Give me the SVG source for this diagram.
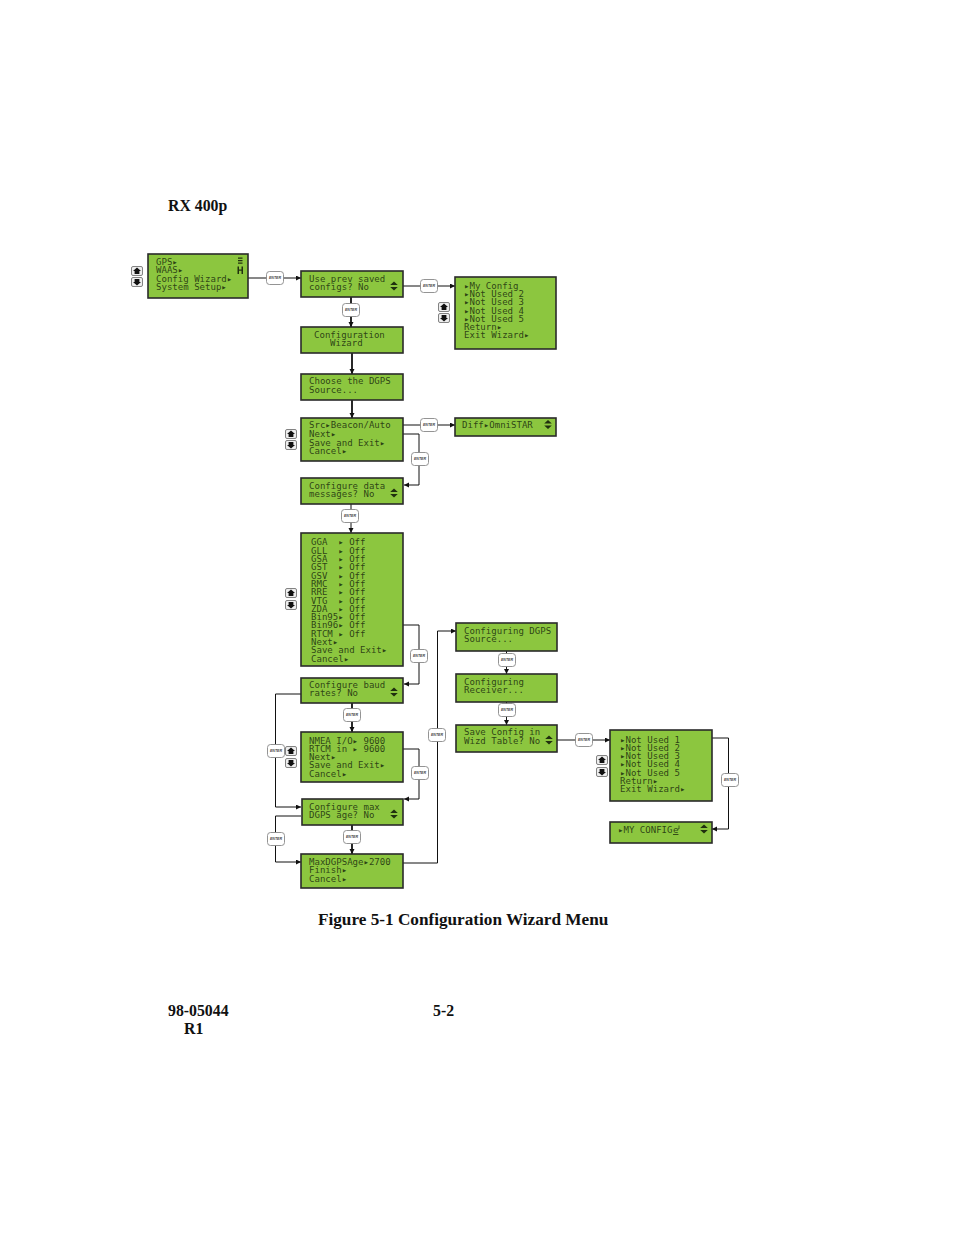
<svg xmlns="http://www.w3.org/2000/svg" width="954" height="1235" viewBox="0 0 954 1235">
<style>
.bg{fill:#fff}
.box{fill:#8cc63f;stroke:#2a2a2a;stroke-width:1.6}
.lcd{font-family:"DejaVu Sans Mono","Liberation Mono",monospace;font-size:9.05px;fill:#20300f;fill-opacity:.88;white-space:pre}
.page{font-family:"Liberation Serif","Times New Roman",serif;font-weight:bold;font-size:15.8px;fill:#111;white-space:pre}
.cap{font-size:17.2px}
.c{fill:none;stroke:#111;stroke-width:1}
.t{fill:none;stroke:#111;stroke-width:1.8}
.btn{fill:#fff;stroke:#888;stroke-width:.9}
.bt{font-family:"Liberation Sans",Arial,sans-serif;font-size:3.6px;font-weight:bold;font-style:italic;fill:#444;text-anchor:middle}
.key{fill:#eee;stroke:#666;stroke-width:.8}
.ud{fill:#20300f}
</style>
<defs>
<marker id="ah" markerUnits="userSpaceOnUse" markerWidth="7" markerHeight="7" refX="5" refY="2.5" orient="auto"><path d="M0,0L5,2.5L0,5z" fill="#111"/></marker>
<g id="enter"><rect class="btn" x="-8.5" y="-6.5" width="17" height="13" rx="3"/><text class="bt" y="1.3">ENTER</text></g>
<g id="up"><rect class="key" x="-5.5" y="-4.5" width="11" height="9" rx="1.5"/><path d="M0,-3.5L4,0H2.4V3H-2.4V0H-4z" fill="#111"/></g>
<g id="down"><rect class="key" x="-5.5" y="-4.5" width="11" height="9" rx="1.5"/><path d="M0,3.5L4,0H2.4V-3H-2.4V0H-4z" fill="#111"/></g>
<g id="updown"><path class="ud" d="M0,-4.4L3.8,-1H-3.8zM0,4.4L3.8,1H-3.8z"/></g>
</defs>
<rect class="bg" width="954" height="1235"/>
<text class="page" x="168" y="211">RX 400p</text>
<text class="page cap" x="318" y="925">Figure 5-1 Configuration Wizard Menu</text>
<text class="page" x="168" y="1016">98-05044</text>
<text class="page" x="433" y="1016">5-2</text>
<text class="page" x="184" y="1034">R1</text>

<g id="connectors">
<path class="c" marker-end="url(#ah)" d="M248,278H301"/>
<path class="c" marker-end="url(#ah)" d="M403,286H455"/>
<path class="t" marker-end="url(#ah)" d="M351,297V327"/>
<path class="t" marker-end="url(#ah)" d="M352,353V374"/>
<path class="t" marker-end="url(#ah)" d="M352,400V418"/>
<path class="c" marker-end="url(#ah)" d="M403,425H455"/>
<path class="c" marker-end="url(#ah)" d="M403,434H419V485H404"/>
<path class="c" marker-end="url(#ah)" d="M351,504V533"/>
<path class="c" marker-end="url(#ah)" d="M403,625H419V684H404"/>
<path class="t" marker-end="url(#ah)" d="M352,703V732"/>
<path class="c" marker-end="url(#ah)" d="M301,694H275.5V807H301"/>
<path class="c" marker-end="url(#ah)" d="M403,749H419V799H404"/>
<path class="t" marker-end="url(#ah)" d="M352,825V854"/>
<path class="c" marker-end="url(#ah)" d="M301,816H275.5V862H301"/>
<path class="c" marker-end="url(#ah)" d="M403,863H437.5V631H456"/>
<path class="c" marker-end="url(#ah)" d="M506.5,651V674"/>
<path class="c" marker-end="url(#ah)" d="M506.5,702V725"/>
<path class="c" marker-end="url(#ah)" d="M557,740H610"/>
<path class="c" marker-end="url(#ah)" d="M712,738H728.5V829H712"/>
<use href="#enter" x="275" y="278"/>
<use href="#enter" x="429" y="286"/>
<use href="#enter" x="351" y="310"/>
<use href="#enter" x="429" y="425"/>
<use href="#enter" x="420" y="459"/>
<use href="#enter" x="350" y="516"/>
<use href="#enter" x="419" y="656"/>
<use href="#enter" x="352" y="715"/>
<use href="#enter" x="276" y="751"/>
<use href="#enter" x="420" y="773"/>
<use href="#enter" x="352" y="837"/>
<use href="#enter" x="276" y="839"/>
<use href="#enter" x="437" y="735"/>
<use href="#enter" x="507" y="660"/>
<use href="#enter" x="507" y="710"/>
<use href="#enter" x="584" y="740"/>
<use href="#enter" x="730" y="780"/>
</g>

<g id="keys">
<use href="#up" x="137" y="271"/><use href="#down" x="137" y="282"/>
<use href="#up" x="444" y="307"/><use href="#down" x="444" y="318"/>
<use href="#up" x="291" y="434"/><use href="#down" x="291" y="445"/>
<use href="#up" x="291" y="593"/><use href="#down" x="291" y="605"/>
<use href="#up" x="291" y="751"/><use href="#down" x="291" y="763"/>
<use href="#up" x="602" y="760"/><use href="#down" x="602" y="772"/>
</g>

<g id="n1"><rect class="box" x="148" y="254" width="100" height="44"/>
<text class="lcd" x="156" y="265">GPS▸</text><text class="lcd" x="156" y="273">WAAS▸</text><text class="lcd" x="156" y="282">Config Wizard▸</text><text class="lcd" x="156" y="290">System Setup▸</text>
<path d="M238,257.500h4.500v1.200h-4.500zM238,260h4.500v1.200h-4.500zM238,262.500h4.500v1.200h-4.500zM237.500,266.500h1.500v7.500h-1.500zM241.500,266.500h1.500v7.500h-1.500zM239,269.500h2.500v1.200h-2.500z" fill="#20300f"/></g>
<g id="n2"><rect class="box" x="301" y="271" width="102" height="26"/>
<text class="lcd" x="309" y="282">Use prev saved</text><text class="lcd" x="309" y="290">configs? No</text><use href="#updown" x="394" y="286"/></g>
<g id="n3"><rect class="box" x="455" y="277" width="101" height="72"/>
<text class="lcd" x="464" y="289">▸My Config</text><text class="lcd" x="464" y="297">▸Not Used 2</text><text class="lcd" x="464" y="305">▸Not Used 3</text><text class="lcd" x="464" y="314">▸Not Used 4</text><text class="lcd" x="464" y="322">▸Not Used 5</text><text class="lcd" x="464" y="330">Return▸</text><text class="lcd" x="464" y="338">Exit Wizard▸</text></g>
<g id="n4"><rect class="box" x="301" y="327" width="102" height="26"/>
<text class="lcd" x="314" y="338">Configuration</text><text class="lcd" x="330" y="346">Wizard</text></g>
<g id="n5"><rect class="box" x="301" y="374" width="102" height="26"/>
<text class="lcd" x="309" y="384">Choose the DGPS</text><text class="lcd" x="309" y="393">Source...</text></g>
<g id="n6"><rect class="box" x="301" y="418" width="102" height="43"/>
<text class="lcd" x="309" y="428">Src▸Beacon/Auto</text><text class="lcd" x="309" y="437">Next▸</text><text class="lcd" x="309" y="446">Save and Exit▸</text><text class="lcd" x="309" y="454">Cancel▸</text></g>
<g id="n7"><rect class="box" x="455" y="418" width="101" height="18"/>
<text class="lcd" x="462" y="428">Diff▸OmniSTAR</text><use href="#updown" x="548" y="424.500"/></g>
<g id="n8"><rect class="box" x="301" y="478" width="102" height="26"/>
<text class="lcd" x="309" y="489">Configure data</text><text class="lcd" x="309" y="497">messages? No</text><use href="#updown" x="394" y="493"/></g>
<g id="n9"><rect class="box" x="301" y="533" width="102" height="133"/>
<text class="lcd" x="311" y="545">GGA  ▸ Off</text><text class="lcd" x="311" y="554">GLL  ▸ Off</text><text class="lcd" x="311" y="562">GSA  ▸ Off</text><text class="lcd" x="311" y="570">GST  ▸ Off</text><text class="lcd" x="311" y="579">GSV  ▸ Off</text><text class="lcd" x="311" y="587">RMC  ▸ Off</text><text class="lcd" x="311" y="595">RRE  ▸ Off</text><text class="lcd" x="311" y="604">VTG  ▸ Off</text><text class="lcd" x="311" y="612">ZDA  ▸ Off</text><text class="lcd" x="311" y="620">Bin95▸ Off</text><text class="lcd" x="311" y="628">Bin96▸ Off</text><text class="lcd" x="311" y="637">RTCM ▸ Off</text><text class="lcd" x="311" y="645">Next▸</text><text class="lcd" x="311" y="653">Save and Exit▸</text><text class="lcd" x="311" y="662">Cancel▸</text></g>
<g id="n10"><rect class="box" x="301" y="678" width="102" height="25"/>
<text class="lcd" x="309" y="688">Configure baud</text><text class="lcd" x="309" y="696">rates? No</text><use href="#updown" x="394" y="692"/></g>
<g id="n11"><rect class="box" x="301" y="732" width="102" height="50"/>
<text class="lcd" x="309" y="744">NMEA I/O▸ 9600</text><text class="lcd" x="309" y="752">RTCM in ▸ 9600</text><text class="lcd" x="309" y="760">Next▸</text><text class="lcd" x="309" y="768">Save and Exit▸</text><text class="lcd" x="309" y="777">Cancel▸</text></g>
<g id="n12"><rect class="box" x="302" y="799" width="101" height="26"/>
<text class="lcd" x="309" y="810">Configure max</text><text class="lcd" x="309" y="818">DGPS age? No</text><use href="#updown" x="394" y="814"/></g>
<g id="n13"><rect class="box" x="301" y="854" width="102" height="34"/>
<text class="lcd" x="309" y="865">MaxDGPSAge▸2700</text><text class="lcd" x="309" y="873">Finish▸</text><text class="lcd" x="309" y="882">Cancel▸</text></g>
<g id="n14"><rect class="box" x="456" y="623" width="101" height="28"/>
<text class="lcd" x="464" y="634">Configuring DGPS</text><text class="lcd" x="464" y="642">Source...</text></g>
<g id="n15"><rect class="box" x="456" y="674" width="101" height="28"/>
<text class="lcd" x="464" y="685">Configuring</text><text class="lcd" x="464" y="693">Receiver...</text></g>
<g id="n16"><rect class="box" x="456" y="725" width="101" height="27"/>
<text class="lcd" x="464" y="735">Save Config in</text><text class="lcd" x="464" y="744">Wizd Table? No</text><use href="#updown" x="549" y="740"/></g>
<g id="n17"><rect class="box" x="610" y="730" width="102" height="71"/>
<text class="lcd" x="620" y="743">▸Not Used 1</text><text class="lcd" x="620" y="751">▸Not Used 2</text><text class="lcd" x="620" y="759">▸Not Used 3</text><text class="lcd" x="620" y="767">▸Not Used 4</text><text class="lcd" x="620" y="776">▸Not Used 5</text><text class="lcd" x="620" y="784">Return▸</text><text class="lcd" x="620" y="792">Exit Wizard▸</text></g>
<g id="n18"><rect class="box" x="610" y="822" width="102" height="21"/>
<text class="lcd" x="618" y="833">▸MY CONFIG</text><text class="lcd" x="673" y="833" style="text-decoration:underline">e</text><path d="M679,825.500v3.500h-1.500" fill="none" stroke="#20300f" stroke-width=".7"/><use href="#updown" x="704" y="829"/></g>
</svg>
